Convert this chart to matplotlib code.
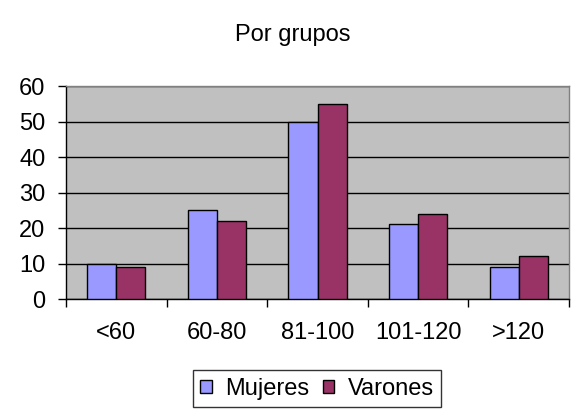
import matplotlib
matplotlib.use("Agg")
import matplotlib.pyplot as plt
import numpy as np

categories = ["<60", "60-80", "81-100", "101-120", ">120"]
mujeres = [10, 25, 50, 21, 9]
varones = [9, 22, 55, 24, 12]
series_names = ["Mujeres", "Varones"]
yticks = [0, 10, 20, 30, 40, 50, 60]

plt.rcParams['font.family'] = ['Liberation Sans', 'DejaVu Sans']

fig = plt.figure(figsize=(5.86, 4.15), dpi=100)
ax = fig.add_axes([66/586, 1-299/415, (569-66)/586, (299-86)/415])
ax.set_facecolor("#C0C0C0")

x = np.arange(len(categories))
w = 0.29
b1 = ax.bar(x - w/2, mujeres, w, color="#9999FF", edgecolor="black", linewidth=1, label=series_names[0], zorder=3)
b2 = ax.bar(x + w/2, varones, w, color="#993366", edgecolor="black", linewidth=1, label=series_names[1], zorder=3)

ax.set_xlim(-0.5, len(categories) - 0.5)
ax.set_ylim(0, 60)
ax.set_yticks(yticks)
ax.set_yticklabels([str(v) for v in yticks], fontsize=17)
ax.yaxis.grid(True, color="black", linewidth=1, zorder=1)
ax.set_axisbelow(True)

ax.set_xticks(np.arange(len(categories) + 1) - 0.5)
ax.set_xticklabels([])
ax.set_xticks(x, minor=True)
ax.set_xticklabels(categories, minor=True, fontsize=17)
ax.tick_params(axis='x', which='major', direction='out', length=5.5, width=1, color='black')
ax.tick_params(axis='x', which='minor', length=0, pad=16.5)
ax.tick_params(axis='y', direction='out', length=5.8, width=1, color='black', pad=9)

for s in ['top', 'right']:
    ax.spines[s].set_color('#808080')
    ax.spines[s].set_linewidth(1)
for s in ['left', 'bottom']:
    ax.spines[s].set_color('black')
    ax.spines[s].set_linewidth(1)

fig.text(293/586, 1-41/415, "Por grupos", ha='center', va='baseline', fontsize=17)

leg = fig.legend(handles=[b1, b2], labels=series_names, loc='center',
                 bbox_to_anchor=(317/586, 1-388.5/415), ncol=2, fontsize=17,
                 frameon=True, fancybox=False, edgecolor='black',
                 handlelength=0.47, handleheight=0.47, handletextpad=0.56,
                 columnspacing=0.6, borderpad=0.3, borderaxespad=0)
leg.get_frame().set_linewidth(1)

fig.savefig("out.png", dpi=100)
